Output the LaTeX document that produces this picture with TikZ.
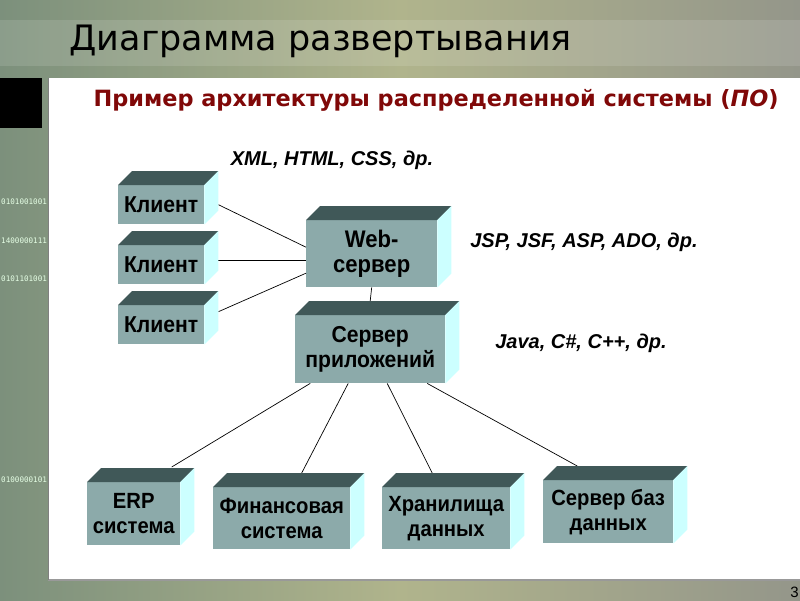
\documentclass[tikz,border=0pt]{standalone}
\usepackage{fontspec}
\setmainfont{Liberation Sans}
\newfontfamily\titlefont{DejaVu Sans}
\newfontfamily\subtitlefont{DejaVu Sans}
\newfontfamily\narrowfont[FakeStretch=0.92]{Liberation Sans}
\newfontfamily\bitsfont{DejaVu Sans Mono}
\usetikzlibrary{positioning}

\definecolor{bgleft}{RGB}{124,144,124}
\definecolor{bgmid}{RGB}{176,180,140}
\definecolor{bgright}{RGB}{148,150,138}
\definecolor{subred}{RGB}{128,8,8}
\definecolor{cubefront}{RGB}{140,170,170}
\definecolor{cubetop}{RGB}{64,88,88}
\definecolor{cubeside}{RGB}{204,255,255}

% top and right faces of a box drawn round a node
\newcommand*{\cubefaces}[1]{%
  \fill[cubetop] (#1.north west) -- ++(14,-14)
    -- ([shift={(14pt,14pt)}]#1.north east) -- (#1.north east) -- cycle;
  \fill[cubeside] (#1.north east) -- ++(14,-14)
    -- ([shift={(14pt,14pt)}]#1.south east) -- (#1.south east) -- cycle;}

\begin{document}
\begin{tikzpicture}[x=1pt,y=-1pt,%
  % common options for the boxes:
  cube/.style = {fill=cubefront, anchor=north west, inner sep=0, align=center,
              font=\narrowfont\bfseries\fontsize{23}{25}\selectfont},
  % common options for the notes:
  note/.style = {font=\bfseries\itshape\fontsize{20}{22}\selectfont},
  bits/.style = {anchor=west, inner sep=0, text=white!90!green,
              font=\bitsfont\fontsize{7.6}{8}\selectfont},
  link/.style = {draw=black, line width=0.7pt}]

\useasboundingbox (0,0) rectangle (800,600);

% slide background
\shade[left color=bgleft, right color=bgright, middle color=bgmid]
  (0,0) rectangle (800,600);
\fill[white,opacity=0.12] (0,20) rectangle (800,66);
\fill[black] (0,78) rectangle (42,128);

% binary digits on the left strip
\node[bits] (bits1) at (1,202) {0101001001};
\node[bits] (bits2) at (1,241) {1400000111};
\node[bits] (bits3) at (1,279) {0101101001};
\node[bits] (bits4) at (1,480) {0100000101};

% white panel
\fill[white] (48,78) rectangle (800,580);
\draw[gray!80,line width=1.5pt] (48,580) -- (800,580);
\draw[gray,line width=0.8pt] (48,78) -- (48,580);

% slide number
\node[anchor=south east,inner sep=0,font=\fontsize{15}{16}\selectfont]
  (pagenum) at (799,598) {3};

% titles
\node[anchor=west,font=\titlefont\fontsize{35}{38}\selectfont] (title)
  at (66,41) {Диаграмма развертывания};
\node[anchor=west,text=subred,
  font=\subtitlefont\bfseries\fontsize{22.4}{26}\selectfont] (subtitle)
  at (90,100) {Пример архитектуры распределенной системы (\textit{ПО})};

% clients
\node[cube,minimum width=86pt,minimum height=39pt] (client1) at (118,185) {Клиент};
\node[cube,minimum width=86pt,minimum height=39pt] (client2) at (118,245) {Клиент};
\node[cube,minimum width=86pt,minimum height=39pt] (client3) at (118,305) {Клиент};

% servers
\node[cube,minimum width=131pt,minimum height=67pt,
  font=\narrowfont\bfseries\fontsize{24}{25}\selectfont] (web) at (306,220)
  {Web-\\сервер};
\node[cube,minimum width=150pt,minimum height=68pt] (app) at (295,315)
  {Сервер\\приложений};

% back-end systems
\node[cube,minimum width=93pt,minimum height=63pt,
  font=\narrowfont\bfseries\fontsize{22}{25}\selectfont] (erp) at (87,482)
  {ERP\\система};
\node[cube,minimum width=137pt,minimum height=62pt,
  font=\narrowfont\bfseries\fontsize{22}{25}\selectfont] (fin) at (213,487)
  {Финансовая\\система};
\node[cube,minimum width=128pt,minimum height=62pt,
  font=\narrowfont\bfseries\fontsize{22}{25}\selectfont] (store) at (382,487)
  {Хранилища\\данных};
\node[cube,minimum width=130pt,minimum height=63pt,
  font=\narrowfont\bfseries\fontsize{22}{25}\selectfont] (db) at (543,480)
  {Сервер баз\\данных};

% technology notes
\node[note] (clientnote) at (332,160) {XML, HTML, CSS, др.};
\node[note] (webnote) at (584,242) {JSP, JSF, ASP, ADO, др.};
\node[note] (appnote) at (581,343) {Java, C\#, C++, др.};

% links from the clients to the web server
\draw[link] ([xshift=14pt]client1.east) -- ([yshift=6.5pt]web.west);
\draw[link] ([shift={(14pt,4pt)}]client2.east) -- ([yshift=-7pt]web.west);
\draw[link] ([shift={(14pt,13pt)}]client3.east) -- ([yshift=-19.5pt]web.west);

% web server to application server
\draw[link] (web.south) -- ([yshift=14pt]app.north);

% application server to the back-end systems
\draw[link] ([xshift=-60pt]app.south) -- ([shift={(38pt,15pt)}]erp.north);
\draw[link] ([xshift=-22pt]app.south) -- ([shift={(20pt,14pt)}]fin.north);
\draw[link] ([xshift=17pt]app.south) -- ([shift={(-14pt,14pt)}]store.north);
\draw[link] ([xshift=57pt]app.south) -- ([shift={(-31pt,14pt)}]db.north);

% box faces
\cubefaces{client1}
\cubefaces{client2}
\cubefaces{client3}
\cubefaces{web}
\cubefaces{app}
\cubefaces{erp}
\cubefaces{fin}
\cubefaces{store}
\cubefaces{db}
\end{tikzpicture}
\end{document}
